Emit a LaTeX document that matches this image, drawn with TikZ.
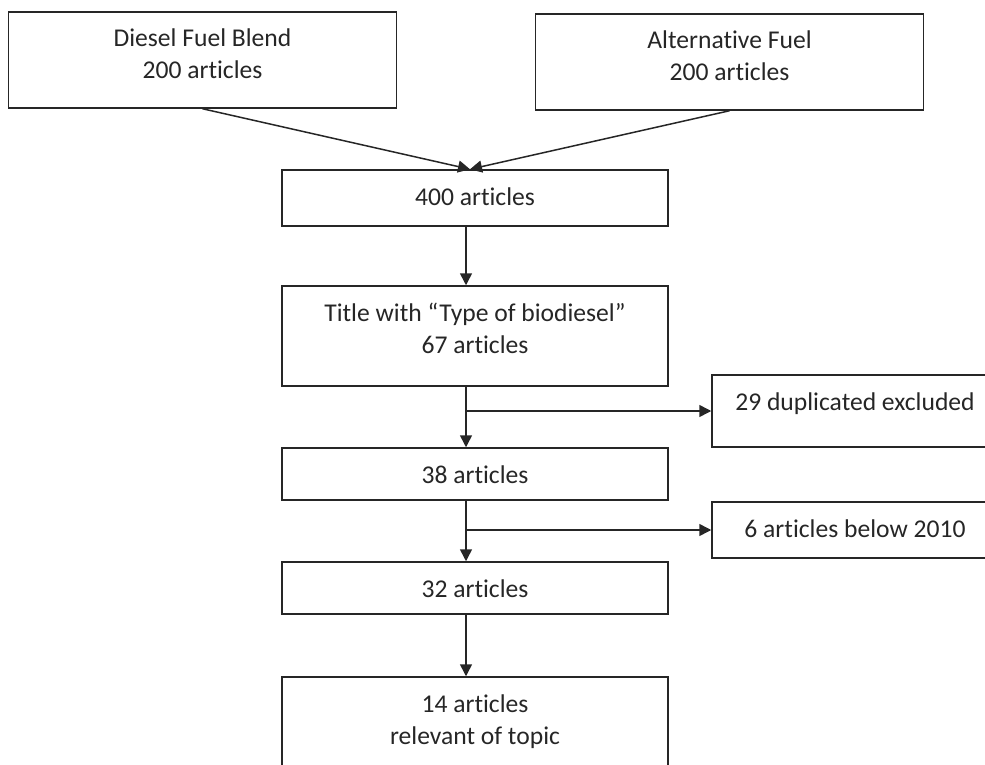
\documentclass[tikz,border=0pt]{standalone}
\usepackage{fontspec}
\setmainfont[Ligatures={NoCommon,NoContextual},RawFeature={-liga;-clig}]{Carlito}
\usetikzlibrary{arrows.meta, positioning}
\tikzset{->,>={Triangle[width=12pt,length=12pt]},
    node distance=138pt,
    stage/.style={rectangle,draw,inner sep=0pt,minimum width=386pt,
        align=center,text height=35pt,font=\fontsize{25.6}{32}\selectfont},
    twoline/.style={text height=67pt},
    source/.style={stage,twoline,minimum width=388pt},
    dropped/.style={stage,minimum width=286pt}}

\begin{document}
\begin{tikzpicture}[x=1pt,y=-1pt,line width=1.5pt,black!85]
\useasboundingbox (0,0) rectangle (985,765);
\clip (0,0) rectangle (985,765);

\node[source,text depth=29pt]  (diesel) at (202.5,60)  {Diesel Fuel Blend\\200 articles};
\node[source,text depth=29pt]  (alt)    at (729.5,62)  {Alternative Fuel\\200 articles};
\node[stage,text depth=21pt]   (n400)   at (475,198)   {400 articles};
\node[stage,twoline,text depth=33pt] (title) [below of=n400] {Title with “Type of biodiesel”\\67 articles};
\node[stage,text depth=17pt]   (n38)    [below of=title] {38 articles};
\node[stage,text depth=17pt,node distance=114pt] (n32) [below of=n38] {32 articles};
\node[stage,twoline,text depth=33pt,node distance=139pt] (n14) [below of=n32] {14 articles\\relevant of topic};
\node[dropped,text depth=37pt] (dup)    at (855,411)   {29 duplicated excluded};
\node[dropped,text depth=21pt] (old)    at (855,530)   {6 articles below 2010};

\coordinate (col) at (466,0); % arrows run a bit left of the box centres
\path[]
	(diesel.south)	edge 	[] 	([xshift=-5pt]n400.north)
	(alt.south)	edge 	[] 	([xshift=-5pt]n400.north)
	(n400.south -| col)	edge 	[] 	(title.north -| col)
	(title.south -| col)	edge 	[] 	(n38.north -| col)
	(dup.west -| col)	edge 	[] 	(dup.west)
	(n38.south -| col)	edge 	[] 	(n32.north -| col)
	(old.west -| col)	edge 	[] 	(old.west)
	(n32.south -| col)	edge 	[] 	(n14.north -| col);
\end{tikzpicture}
\end{document}
